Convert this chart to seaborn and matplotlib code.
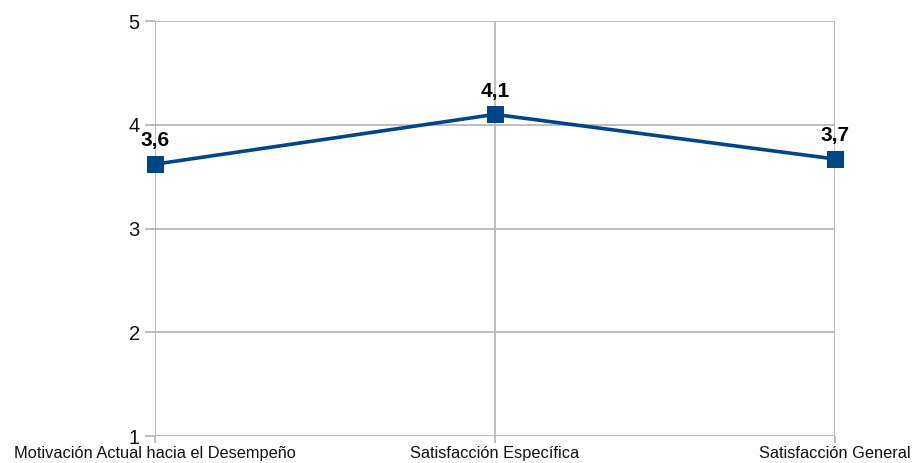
import pandas as pd
import matplotlib
matplotlib.use("Agg")
import matplotlib.pyplot as plt
import seaborn as sns

categorias = ["Motivación Actual hacia el Desempeño", "Satisfacción Específica", "Satisfacción General"]
valores = [3.62, 4.10, 3.67]
etiquetas = ["3,6", "4,1", "3,7"]

df = pd.DataFrame({"categoria": categorias, "valor": valores})

sns.set_style("white")
plt.rcParams["font.family"] = ["Liberation Sans", "DejaVu Sans"]

fig = plt.figure(figsize=(9.15, 4.63), dpi=100)
ax = fig.add_axes([0.1694, 0.0583, 0.7432, 0.8963])

sns.lineplot(data=df, x="categoria", y="valor", sort=False, ax=ax,
             color="#004586", linewidth=2.6, marker="s", markersize=12,
             markeredgecolor="#004586", clip_on=False, zorder=5)

for i, (v, t) in enumerate(zip(valores, etiquetas)):
    ax.annotate(t, (i, v), xytext=(0, 10), textcoords="offset points",
                ha="center", va="bottom", fontsize=15, fontweight="bold", color="black")

ax.set_xlim(0, len(categorias) - 1)
ax.set_ylim(1, 5)
ax.set_yticks([1, 2, 3, 4, 5])
ax.set_xlabel("")
ax.set_ylabel("")
ax.grid(True, color="#b3b3b3", linewidth=1.2)
ax.set_axisbelow(True)
for s in ax.spines.values():
    s.set_visible(False)
ax.tick_params(axis="both", which="both", length=7, width=1.2, color="#b3b3b3",
               direction="out", left=True, bottom=True, labelcolor="#111111")
ax.tick_params(axis="y", labelsize=14.5, pad=4)
ax.tick_params(axis="x", labelsize=11.8, pad=2.5, length=5)

fig.savefig("out.png", dpi=100)
